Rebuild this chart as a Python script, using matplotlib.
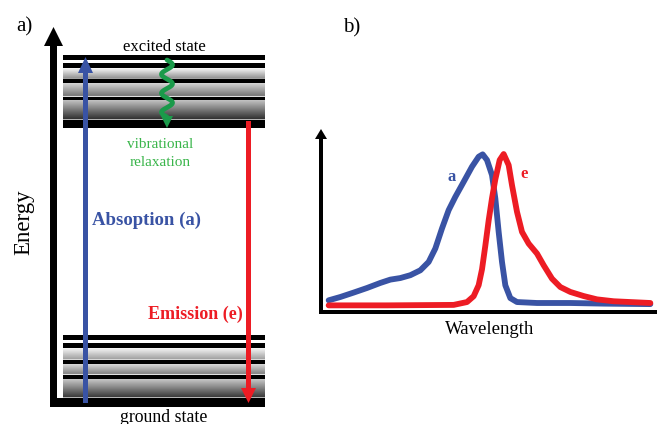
import numpy as np
import matplotlib
matplotlib.use("Agg")
import matplotlib.pyplot as plt
from matplotlib.patches import Rectangle, Polygon

# ---------------- data (panel b spectra, arbitrary units) ----------------
abs_wavelength = [85, 120, 160, 200, 240, 270, 300, 330, 360, 385, 405, 425,
                  445, 465, 490, 515, 535, 547, 560, 575, 585, 595, 605, 615,
                  630, 650, 710, 810, 910, 1050]
abs_intensity = [0.074, 0.095, 0.123, 0.152, 0.184, 0.205, 0.215, 0.233, 0.264,
                 0.317, 0.402, 0.529, 0.645, 0.729, 0.824, 0.920, 0.983, 0.998,
                 0.962, 0.867, 0.719, 0.507, 0.317, 0.169, 0.088, 0.063, 0.057,
                 0.057, 0.053, 0.050]
em_wavelength = [85, 260, 460, 500, 520, 535, 545, 555, 565, 575, 585, 598, 610,
                 625, 635, 650, 665, 685, 710, 730, 755, 780, 810, 850, 890, 940,
                 990, 1050]
em_intensity = [0.042, 0.042, 0.045, 0.063, 0.100, 0.170, 0.270, 0.420, 0.580,
                0.720, 0.840, 0.962, 1.000, 0.930, 0.803, 0.634, 0.507, 0.433,
                0.370, 0.296, 0.211, 0.158, 0.127, 0.101, 0.080, 0.068, 0.063,
                0.057]

panel_labels = ["a)", "b)"]
state_labels = ["excited state", "ground state"]
process_labels = ["Absoption (a)", "Emission (e)", "vibrational", "relaxation"]
axis_labels = ["Energy", "Wavelength"]
curve_labels = ["a", "e"]

BLUE = "#3953a4"
RED = "#ed1c24"
GREEN = "#1a9a4a"
GREEN_TXT = "#39b54a"
SERIF = ["Liberation Serif", "DejaVu Serif"]

W, H = 658, 424
fig = plt.figure(figsize=(W / 100, H / 100), dpi=100)
fig.patch.set_facecolor("white")

# overlay axes in pixel coordinates
ov = fig.add_axes([0, 0, 1, 1])
ov.set_xlim(0, W)
ov.set_ylim(H, 0)
ov.axis("off")

def rect(x0, x1, y0, y1, color="black", z=3):
    ov.add_patch(Rectangle((x0, y0), x1 - x0, y1 - y0, facecolor=color,
                           edgecolor="none", zorder=z))

def level_box(y_top, bars, bands, bottom):
    x0, x1 = 63, 265
    ys = np.arange(y_top, bottom[1] + 1, 0.25)
    vals = np.ones_like(ys)
    for (a, b, v0, v1) in bands:
        m = (ys >= a) & (ys <= b)
        vals[m] = v0 + (v1 - v0) * (ys[m] - a) / (b - a)
    img = vals[:, None]
    ov.imshow(img, cmap="gray", vmin=0, vmax=1, aspect="auto",
              extent=[x0, x1, bottom[1], y_top], origin="upper",
              interpolation="bilinear", zorder=2)
    for (a, b) in bars:
        rect(x0, x1, a, b)
    rect(x0, x1, bottom[0], bottom[1])

# excited state
level_box(55, [(55, 59.5), (63, 67.5), (79, 83), (96.5, 100)],
          [(67.5, 79, 1.0, 0.55), (83, 96.5, 0.85, 0.45), (100, 120, 0.78, 0.18)],
          (120, 128))
# ground state
level_box(335, [(335, 339.5), (343, 348), (359.5, 363.5), (374.5, 379)],
          [(348, 359.5, 0.97, 0.62), (363.5, 374.5, 0.88, 0.5), (379, 398, 0.8, 0.22)],
          (398, 407))

# energy axis (L shape with arrow)
rect(50, 57, 44, 407, z=4)
rect(50, 265, 398, 407, z=4)
ov.add_patch(Polygon([(44, 46), (63, 46), (53.5, 27)], closed=True,
                     facecolor="black", edgecolor="none", zorder=4))

# absorption arrow (blue, up)
rect(83, 88, 70, 403, color=BLUE, z=5)
ov.add_patch(Polygon([(78, 73), (93, 73), (85.5, 57)], closed=True,
                     facecolor=BLUE, edgecolor="none", zorder=5))
# emission arrow (red, down)
rect(246, 251, 121, 390, color=RED, z=5)
ov.add_patch(Polygon([(241, 388), (256, 388), (248.5, 403)], closed=True,
                     facecolor=RED, edgecolor="none", zorder=5))

# vibrational relaxation wavy arrow (green)
t = np.linspace(60, 117, 300)
xw = 167 + 5.5 * np.sin(2 * np.pi * (t - 60) / 19.0)
ov.plot(xw, t, color=GREEN, lw=3.4, solid_capstyle="round", zorder=6)
ov.add_patch(Polygon([(161, 116), (173, 116), (167, 128)], closed=True,
                     facecolor=GREEN, edgecolor="none", zorder=6))

# texts panel a
ov.text(24, 27, panel_labels[0], family=SERIF, fontsize=15, ha="center", va="center")
ov.text(164, 47, state_labels[0], family=SERIF, fontsize=12, ha="center", va="center")
ov.text(164, 417, state_labels[1], family=SERIF, fontsize=12.8, ha="center", va="center")
ov.text(160, 145, process_labels[2], family=SERIF, fontsize=11, ha="center",
        va="center", color=GREEN_TXT)
ov.text(160, 163, process_labels[3], family=SERIF, fontsize=11, ha="center",
        va="center", color=GREEN_TXT)
ov.text(92, 220, process_labels[0], family=SERIF, fontsize=13.5, fontweight="bold",
        ha="left", va="center", color=BLUE)
ov.text(243, 314, process_labels[1], family=SERIF, fontsize=13, fontweight="bold",
        ha="right", va="center", color=RED)
ov.text(24, 222, axis_labels[0], family=SERIF, fontsize=16.5, ha="center",
        va="center", rotation=90)

# panel b axes lines (pixel overlay)
rect(319, 323, 137, 313, z=4)
rect(319, 657, 310, 313.5, z=4)
ov.add_patch(Polygon([(315, 139), (327, 139), (321, 129)], closed=True,
                     facecolor="black", edgecolor="none", zorder=4))
ov.text(352, 28, panel_labels[1], family=SERIF, fontsize=15, ha="center", va="center")
ov.text(490, 329, axis_labels[1], family=SERIF, fontsize=13.5, ha="center", va="center")

# panel b data axes
px0, px1, py_top, py_bot = 321, 657, 130, 312
axb = fig.add_axes([px0 / W, 1 - py_bot / H, (px1 - px0) / W, (py_bot - py_top) / H])
axb.set_facecolor("none")
axb.set_xlim(62, 1070)
axb.set_ylim(0, 545 / 473)
axb.axis("off")
axb.plot(abs_wavelength, abs_intensity, color=BLUE, lw=4.2,
         solid_capstyle="round", solid_joinstyle="round")
axb.plot(em_wavelength, em_intensity, color=RED, lw=4.2,
         solid_capstyle="round", solid_joinstyle="round")
axb.text(455, 0.855, curve_labels[0], family=SERIF, fontsize=12, fontweight="bold",
         color=BLUE, ha="center", va="center")
axb.text(670, 0.876, curve_labels[1], family=SERIF, fontsize=12, fontweight="bold",
         color=RED, ha="center", va="center")

fig.savefig("out.png", dpi=100, facecolor="white")
